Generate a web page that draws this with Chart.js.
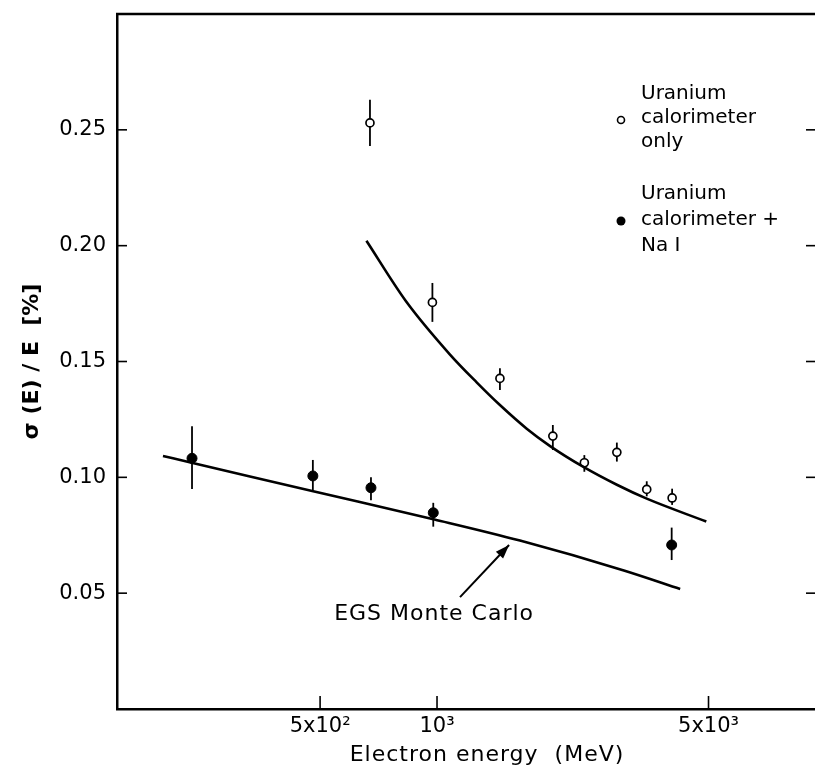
<!DOCTYPE html>
<html><head><meta charset="utf-8">
<script src="https://cdn.jsdelivr.net/npm/chart.js@4.4.0/dist/chart.umd.min.js"></script>
<style>html,body{margin:0;padding:0;background:#fff;overflow:hidden}</style>
</head><body>
<canvas id="c" width="815" height="770"></canvas>
<script>
// ---- data ----
const energyOnly = [672, 973, 1452, 1987, 2395, 2904, 3467, 4030];
const sigmaOnly  = [0.253, 0.1755, 0.1427, 0.1178, 0.1063, 0.1108, 0.0948, 0.0911];
const errOnlyHi  = [0.010, 0.0084, 0.0044, 0.0048, 0.0033, 0.0042, 0.0035, 0.0040];
const errOnlyLo  = [0.010, 0.0084, 0.0050, 0.0060, 0.0039, 0.0040, 0.0030, 0.0030];

const energyNaI = [234, 479, 676, 978, 4019];
const sigmaNaI  = [0.1082, 0.1006, 0.0955, 0.0847, 0.0708];
const errNaIHi  = [0.0139, 0.0069, 0.0045, 0.0043, 0.0075];
const errNaILo  = [0.0132, 0.0061, 0.0054, 0.0060, 0.0065];

const fitOnlyE = [658, 832, 1080, 1265, 1452, 1702, 1955, 2382, 2904, 3467, 4935];
const fitOnlyS = [0.2021, 0.1760, 0.1530, 0.1410, 0.1312, 0.1210, 0.1135, 0.1045, 0.0968, 0.0908, 0.0809];

const egsE = [197, 235, 480, 985, 1635, 3027, 4227];
const egsS = [0.1092, 0.1062, 0.0940, 0.0818, 0.0727, 0.0598, 0.0518];

const xTickValues = [500, 1000, 5000];
const xTickLabels = ['5x10\u00B2', '10\u00B3', '5x10\u00B3'];
const yTickValues = [0.05, 0.10, 0.15, 0.20, 0.25];
const yTickLabels = ['0.05', '0.10', '0.15', '0.20', '0.25'];

const legendOnly = ['Uranium', 'calorimeter', 'only'];
const legendNaI  = ['Uranium', 'calorimeter +', 'Na I'];
const annotationText = 'EGS Monte Carlo';
const xTitle = 'Electron energy  (MeV)';
const yTitle = '\u03C3 (E) / E  [%]';

// annotation anchor (data coordinates)
const arrowTail = {x: 1146, y: 0.0483};
const arrowHead = {x: 1533, y: 0.0708};
const annotAt   = {x: 983,  y: 0.0410};

const FONT = 'DejaVu Sans';
const toXY = (xs, ys) => xs.map((x, i) => ({x: x, y: ys[i]}));

const errorBars = {
  id: 'errorBars',
  beforeDatasetsDraw(chart) {
    const {ctx, scales: {x, y}} = chart;
    ctx.save();
    ctx.strokeStyle = '#000';
    ctx.lineWidth = 1.8;
    chart.data.datasets.forEach(ds => {
      if (!ds.errHi) return;
      ds.data.forEach((p, i) => {
        const px = x.getPixelForValue(p.x);
        ctx.beginPath();
        ctx.moveTo(px, y.getPixelForValue(p.y + ds.errHi[i]));
        ctx.lineTo(px, y.getPixelForValue(p.y - ds.errLo[i]));
        ctx.stroke();
      });
    });
    ctx.restore();
  }
};

const frame = {
  id: 'frame',
  afterDraw(chart) {
    const {ctx, chartArea: a, scales: {x, y}} = chart;
    ctx.save();
    ctx.strokeStyle = '#000';
    ctx.fillStyle = '#000';
    // top border
    ctx.lineWidth = 2.5;
    ctx.beginPath(); ctx.moveTo(a.left - 1, a.top); ctx.lineTo(a.right, a.top); ctx.stroke();
    // inward ticks
    ctx.lineWidth = 1.6;
    yTickValues.forEach(v => {
      const py = y.getPixelForValue(v);
      ctx.beginPath(); ctx.moveTo(a.left, py); ctx.lineTo(a.left + 10, py); ctx.stroke();
      ctx.beginPath(); ctx.moveTo(a.right - 9, py); ctx.lineTo(a.right, py); ctx.stroke();
    });
    xTickValues.forEach(v => {
      const px = x.getPixelForValue(v);
      ctx.beginPath(); ctx.moveTo(px, a.bottom); ctx.lineTo(px, a.bottom - 13); ctx.stroke();
    });
    // legend
    ctx.font = '20px "' + FONT + '"';
    ctx.textAlign = 'left';
    ctx.textBaseline = 'middle';
    legendOnly.forEach((t, i) => ctx.fillText(t, 641, 94 + i * 24));
    legendNaI.forEach((t, i) => ctx.fillText(t, 641, 194 + i * 26));
    ctx.lineWidth = 1.6;
    ctx.beginPath(); ctx.arc(621, 120, 3.5, 0, Math.PI * 2); ctx.stroke();
    ctx.beginPath(); ctx.arc(621, 221, 4.5, 0, Math.PI * 2); ctx.fill();
    // annotation arrow
    const tx = x.getPixelForValue(arrowTail.x), ty = y.getPixelForValue(arrowTail.y);
    const hx = x.getPixelForValue(arrowHead.x), hy = y.getPixelForValue(arrowHead.y);
    ctx.lineWidth = 2;
    ctx.beginPath(); ctx.moveTo(tx, ty); ctx.lineTo(hx, hy); ctx.stroke();
    const ang = Math.atan2(hy - ty, hx - tx), L = 14, W = 5;
    ctx.beginPath();
    ctx.moveTo(hx, hy);
    ctx.lineTo(hx - L * Math.cos(ang) + W * Math.sin(ang), hy - L * Math.sin(ang) - W * Math.cos(ang));
    ctx.lineTo(hx - L * Math.cos(ang) - W * Math.sin(ang), hy - L * Math.sin(ang) + W * Math.cos(ang));
    ctx.closePath(); ctx.fill();
    ctx.font = '22px "' + FONT + '"';
    ctx.textAlign = 'center';
    ctx.letterSpacing = '1px';
    ctx.fillText(annotationText, x.getPixelForValue(annotAt.x), y.getPixelForValue(annotAt.y));
    // x axis title
    ctx.fillText(xTitle, 487, 755);
    ctx.restore();
  }
};

new Chart(document.getElementById('c'), {
  type: 'scatter',
  data: {
    datasets: [
      {label: 'EGS Monte Carlo', data: toXY(egsE, egsS), showLine: true, borderColor: '#000',
       borderWidth: 2.6, pointRadius: 0, cubicInterpolationMode: 'monotone', fill: false},
      {label: 'Fit (calorimeter only)', data: toXY(fitOnlyE, fitOnlyS), showLine: true, borderColor: '#000',
       borderWidth: 2.6, pointRadius: 0, cubicInterpolationMode: 'monotone', fill: false},
      {label: 'Uranium calorimeter only', data: toXY(energyOnly, sigmaOnly), errHi: errOnlyHi, errLo: errOnlyLo,
       pointStyle: 'circle', pointRadius: 4, pointBackgroundColor: '#fff', pointBorderColor: '#000', pointBorderWidth: 1.7},
      {label: 'Uranium calorimeter + Na I', data: toXY(energyNaI, sigmaNaI), errHi: errNaIHi, errLo: errNaILo,
       pointStyle: 'circle', pointRadius: 5, pointBackgroundColor: '#000', pointBorderColor: '#000', pointBorderWidth: 1}
    ]
  },
  options: {
    responsive: false, animation: false, devicePixelRatio: 1,
    layout: {autoPadding: false, padding: {top: 14, right: 0, left: 0, bottom: 0}},
    plugins: {legend: {display: false}, tooltip: {enabled: false}},
    scales: {
      x: {
        type: 'logarithmic', min: 150, max: 9400,
        afterFit(s) { s.height = 61; s.paddingLeft = 0; s.paddingRight = 0; },
        afterBuildTicks(s) { s.ticks = xTickValues.map(v => ({value: v})); },
        ticks: {callback: (v, i) => xTickLabels[i], font: {family: FONT, size: 21}, color: '#000',
                padding: 5, maxRotation: 0, autoSkip: false},
        grid: {display: false, drawTicks: false},
        border: {display: true, color: '#000', width: 2.5}
      },
      y: {
        min: 0, max: 0.30,
        afterFit(s) { s.width = 117; s.paddingTop = 0; s.paddingBottom = 0; },
        afterBuildTicks(s) { s.ticks = yTickValues.map(v => ({value: v})); },
        ticks: {callback: (v, i) => yTickLabels[i], font: {family: FONT, size: 21}, color: '#000', padding: 11},
        title: {display: true, text: yTitle, color: '#000', font: {family: FONT, size: 22, weight: 'bold'},
                padding: {top: 19, bottom: 0}},
        grid: {display: false, drawTicks: false},
        border: {display: true, color: '#000', width: 2.5}
      }
    }
  },
  plugins: [errorBars, frame]
});
</script>
</body></html>
